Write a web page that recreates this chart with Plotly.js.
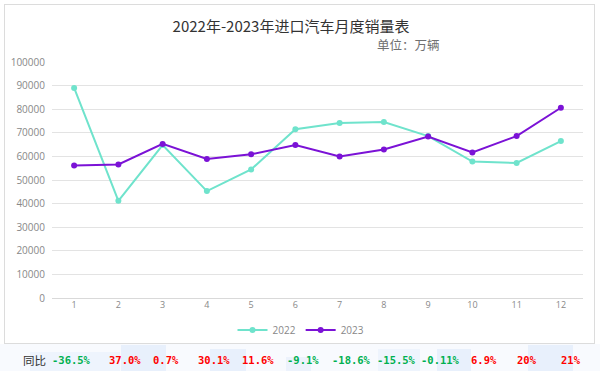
<!DOCTYPE html>
<html><head><meta charset="utf-8">
<script src="https://cdn.plot.ly/plotly-3.0.1.min.js"></script>
<style>
html,body{margin:0;padding:0;background:#fff;width:600px;height:371px;overflow:hidden;}
#box{position:absolute;left:4px;top:4px;width:589px;height:338px;border:1px solid #dcdcdc;background:#fff;}
.p{position:absolute;}
#chart{position:absolute;left:0;top:0;width:600px;height:371px;}
</style></head><body>
<div class="p" style="left:0;top:344px;width:600px;height:27px;background:#f8fafe"></div>
<div class="p" style="left:30px;top:352px;width:90px;height:19px;background:#eef4fd"></div>
<div class="p" style="left:121px;top:345px;width:45px;height:26px;background:#e8f0fc"></div>
<div class="p" style="left:210px;top:349px;width:36px;height:22px;background:#e8f0fc"></div>
<div class="p" style="left:286px;top:357px;width:25px;height:14px;background:#ecf2fc"></div>
<div class="p" style="left:378px;top:349px;width:42px;height:22px;background:#eef4fd"></div>
<div class="p" style="left:437px;top:349px;width:34px;height:22px;background:#e8f0fc"></div>
<div class="p" style="left:528px;top:345px;width:45px;height:26px;background:#e8f0fc"></div>
<div id="box"></div>
<div id="chart"></div>
<script>
const months = ['1','2','3','4','5','6','7','8','9','10','11','12'];
const sales2022 = [89000, 41200, 64800, 45300, 54500, 71500, 74200, 74600, 68600, 57800, 57200, 66500];
const sales2023 = [56100, 56600, 65300, 58900, 60900, 64800, 60000, 62900, 68400, 61700, 68600, 80600];
const yoyLabels = ['-36.5%','37.0%','0.7%','30.1%','11.6%','-9.1%','-18.6%','-15.5%','-0.11%','6.9%','20%','21%'];
const yoyPixelX = [71,125,166,214,258,303,351,396,440,484,527,571];

const W=600,H=371;
const annotations = [
  {text:'单位：万辆', xref:'paper', yref:'paper', x:(442-52)/531, y:(298-45)/236, xanchor:'right', yanchor:'middle', showarrow:false,
   font:{family:'Noto Sans CJK SC', size:12.5, color:'#707070'}},
  {text:'同比', xref:'paper', yref:'paper', x:(34-52)/531, y:(298-360)/236, xanchor:'center', yanchor:'middle', showarrow:false,
   font:{family:'Noto Sans CJK SC', size:11.5, color:'#333'}}
];
yoyLabels.forEach((t,i)=>{
  annotations.push({text:'<b>'+t+'</b>', xref:'paper', yref:'paper', x:(yoyPixelX[i]-52)/531, y:(298-360)/236,
    xanchor:'center', yanchor:'middle', showarrow:false,
    font:{family:'DejaVu Sans Mono', size:10.5, color: t.startsWith('-') ? '#00b050' : '#ff0000'}});
});

const traces = [
  {x:months, y:sales2022, name:'2022', type:'scatter', mode:'lines+markers',
   line:{color:'#6fe3cc', width:2}, marker:{color:'#6fe3cc', size:6}},
  {x:months, y:sales2023, name:'2023', type:'scatter', mode:'lines+markers',
   line:{color:'#7b12d6', width:2}, marker:{color:'#7b12d6', size:6}}
];
const layout = {
  width:W, height:H,
  paper_bgcolor:'rgba(0,0,0,0)', plot_bgcolor:'rgba(0,0,0,0)',
  margin:{l:52, r:17, t:62, b:73},
  title:{text:'2022年-2023年进口汽车月度销量表', xref:'container', yref:'container', x:291/600, xanchor:'center', y:1-27/371, yanchor:'middle',
    font:{family:'Noto Sans CJK SC', size:15, color:'#333'}},
  xaxis:{type:'category', range:[-0.5, 11.5], showgrid:false, zeroline:false, showline:false, ticks:'',
    tickfont:{family:'Open Sans', size:9, color:'#888'}, fixedrange:true},
  yaxis:{range:[0,100000], dtick:10000, showgrid:true, gridcolor:'#e3e3e3', gridwidth:1, zeroline:true, zerolinecolor:'#d9d9d9',
    showline:false, ticks:'', tickfont:{family:'Open Sans', size:10, color:'#888'}, ticklabelstandoff:6, tickformat:'d'},
  showlegend:true,
  legend:{orientation:'h', x:(301-52)/531, xanchor:'center', y:(298-330)/236, yanchor:'middle',
    font:{family:'Open Sans', size:10, color:'#888'}, itemwidth:30, tracegroupgap:0, bgcolor:'rgba(0,0,0,0)'},
  annotations: annotations
};
Plotly.newPlot('chart', traces, layout, {displayModeBar:false, staticPlot:true});
</script>
</body></html>
